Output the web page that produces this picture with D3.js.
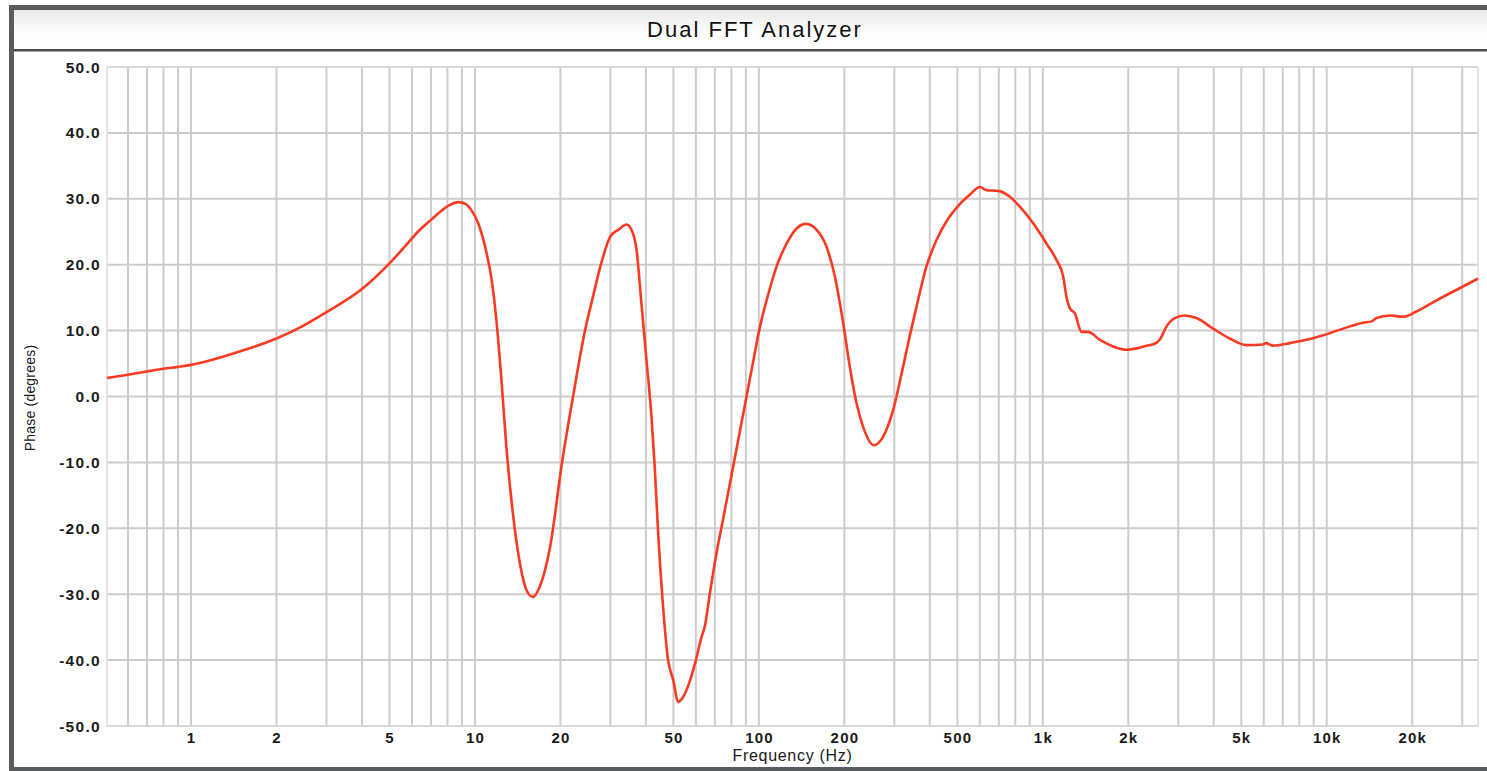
<!DOCTYPE html>
<html>
<head>
<meta charset="utf-8">
<script src="https://cdn.jsdelivr.net/npm/d3@7"></script>
<style>
  body { margin: 0; background: #fff; }
  text { font-family: "Liberation Sans", Arial, sans-serif; }
</style>
</head>
<body>
<svg id="chart" width="1487" height="771"></svg>
<script>
// frequency (Hz) / phase (degrees)
const freqs = [0.506, 0.6, 0.7, 0.8, 0.9, 1, 1.5, 2, 2.5, 3, 4, 5, 5.7, 6.4, 7, 7.53, 8.1, 8.74, 9.3, 9.6,
  10.27, 11, 11.45, 11.9, 12.4, 12.9, 13.6, 14.4, 15.2, 16, 16.9, 18.4, 20.27, 22.16, 24.42, 26.1, 27.6,
  30, 32, 34.2, 35.6, 37.1, 38.6, 40.2, 41.9, 43, 44.2, 45.8, 47.9, 49.9, 52, 54.1, 56.8, 60, 62.8, 64.5,
  67.2, 70.9, 74.9, 79, 89.3, 95.5, 100.9, 106.5, 115.4, 125.2, 135.8, 146.5, 159.8, 173.2, 185.2,
  198.2, 209.1, 220.7, 232.9, 254, 274, 297.3, 322, 340, 359, 389, 422, 458, 503, 553, 600, 634, 696, 766,
  830, 925, 1031, 1118, 1180, 1212, 1245, 1297, 1369, 1444, 1589, 1770, 1973, 2140, 2320, 2478, 2580, 2725,
  2915, 3162, 3478, 3980, 4553, 5213, 5966, 6100, 6471, 7408, 8481, 9710, 11420, 13430, 14380, 14960, 16670,
  18580, 20700, 24380, 28700, 34100];
const phase = [2.8, 3.3, 3.8, 4.2, 4.5, 4.8, 6.9, 8.8, 10.8, 12.8, 16.3, 20.2, 22.9, 25.3, 26.8, 28.0, 29.0, 29.5, 29.2, 28.6,
  26.3, 21.7, 17.7, 11.6, 2.5, -7.6, -17.7, -25.3, -29.4, -30.4, -28.9, -22.8, -10.0, 0.0, 10.0, 15.3, 19.6,
  24.3, 25.3, 26.1, 25.3, 22.2, 14.0, 5.5, -3.3, -10.9, -20.8, -30.9, -40.0, -43.0, -46.3, -45.6, -43.5, -40.0, -36.5, -34.9,
  -29.9, -23.8, -18.5, -13.3, -1.3, 5.3, 10.6, 14.6, 19.7, 23.2, 25.5, 26.2, 25.3, 22.7, 18.2,
  11.1, 4.5, -1.0, -4.6, -7.4, -6.1, -2.0, 4.5, 9.2, 13.6, 19.7, 23.7, 26.6, 28.9, 30.6, 31.8, 31.3, 31.2, 30.3,
  28.8, 26.3, 23.2, 20.7, 18.2, 15.1, 13.4, 12.6, 9.8, 9.8, 8.6, 7.6, 7.1, 7.3, 7.7, 8.0, 8.6, 10.6,
  11.9, 12.3, 11.9, 10.3, 8.8, 7.8, 7.9, 8.1, 7.7, 8.1, 8.6, 9.3, 10.3, 11.2, 11.4, 11.9, 12.3,
  12.1, 12.9, 14.6, 16.2, 17.9];

const yTicks = [50, 40, 30, 20, 10, 0, -10, -20, -30, -40, -50];
const xTickValues = [1, 2, 5, 10, 20, 50, 100, 200, 500, 1000, 2000, 5000, 10000, 20000];
const xTickLabels = ['1', '2', '5', '10', '20', '50', '100', '200', '500', '1k', '2k', '5k', '10k', '20k'];

const trace = freqs.map((f, i) => ({ f: f, p: phase[i] }));

// 1..9 x every decade, inside the domain
let gridFreqs = [];
[0.1, 1, 10, 100, 1000, 10000].forEach(dec => {
  for (let k = 1; k < 10; k++) gridFreqs.push(dec * k);
});

const plotLeft = 107, plotRight = 1478, plotTop = 67, plotBottom = 726;

const xScale = d3.scaleLog().domain([0.506, 34100]).range([plotLeft, plotRight]);
const yScale = d3.scaleLinear().domain([-50, 50]).range([plotBottom, plotTop]);

gridFreqs = gridFreqs.filter(f => xScale(f) > plotLeft + 2 && xScale(f) < plotRight - 2);

const svg = d3.select('#chart');

// window frame + title bar
const grad = svg.append('defs').append('linearGradient')
  .attr('id', 'bar').attr('x1', 0).attr('x2', 0).attr('y1', 0).attr('y2', 1);
grad.append('stop').attr('offset', '0%').attr('stop-color', '#e9e9e9');
grad.append('stop').attr('offset', '60%').attr('stop-color', '#ffffff');

svg.append('rect').attr('x', 9).attr('y', 5).attr('width', 1500).attr('height', 800).attr('fill', '#585c5f');
svg.append('rect').attr('x', 14).attr('y', 10).attr('width', 1500).attr('height', 757).attr('fill', '#fff');
svg.append('rect').attr('x', 14).attr('y', 10).attr('width', 1500).attr('height', 39).attr('fill', 'url(#bar)');
svg.append('rect').attr('x', 14).attr('y', 49).attr('width', 1500).attr('height', 2.5).attr('fill', '#4a4d50');

svg.append('text')
  .attr('x', 755).attr('y', 37)
  .attr('text-anchor', 'middle')
  .style('font-size', '22px')
  .style('letter-spacing', '2px')
  .attr('fill', '#111')
  .text('Dual FFT Analyzer');

// grid
const grid = svg.append('g').attr('stroke', '#cfcbcb').attr('stroke-width', 2);

grid.selectAll('line.v')
  .data(gridFreqs)
  .enter()
  .append('line')
  .attr('class', 'v')
  .attr('x1', d => xScale(d)).attr('x2', d => xScale(d))
  .attr('y1', plotTop).attr('y2', plotBottom);

grid.selectAll('line.h')
  .data(yTicks)
  .enter()
  .append('line')
  .attr('class', 'h')
  .attr('x1', plotLeft).attr('x2', plotRight)
  .attr('y1', d => yScale(d)).attr('y2', d => yScale(d));

svg.append('rect')
  .attr('x', plotLeft).attr('y', plotTop)
  .attr('width', plotRight - plotLeft).attr('height', plotBottom - plotTop)
  .attr('fill', 'none').attr('stroke', '#e2dcdc').attr('stroke-width', 1.5);

// axis labels
svg.append('g').selectAll('text')
  .data(yTicks)
  .enter()
  .append('text')
  .attr('x', 101)
  .attr('y', d => yScale(d))
  .attr('dy', '0.36em')
  .attr('text-anchor', 'end')
  .style('font-size', '15.5px')
  .style('font-weight', 'bold')
  .style('letter-spacing', '1.3px')
  .attr('fill', '#1a1a1a')
  .text(d => d.toFixed(1));

svg.append('g').selectAll('text')
  .data(xTickValues)
  .enter()
  .append('text')
  .attr('x', d => xScale(d) + 0.6)
  .attr('y', 743)
  .attr('text-anchor', 'middle')
  .style('font-size', '15px')
  .style('font-weight', 'bold')
  .style('letter-spacing', '1.2px')
  .attr('fill', '#1a1a1a')
  .text((d, i) => xTickLabels[i]);

svg.append('text')
  .attr('x', (plotLeft + plotRight) / 2).attr('y', 761)
  .attr('text-anchor', 'middle')
  .style('font-size', '16px')
  .style('letter-spacing', '0.7px')
  .attr('fill', '#1a1a1a')
  .text('Frequency (Hz)');

svg.append('text')
  .attr('transform', 'translate(35,398) rotate(-90)')
  .attr('text-anchor', 'middle')
  .style('font-size', '14px')
  .style('letter-spacing', '0.2px')
  .attr('fill', '#1a1a1a')
  .text('Phase (degrees)');

// phase trace
const line = d3.line()
  .x(d => xScale(d.f))
  .y(d => yScale(d.p))
  .curve(d3.curveMonotoneX);

svg.append('path')
  .datum(trace)
  .attr('d', line)
  .attr('fill', 'none')
  .attr('stroke', '#fb3a22')
  .attr('stroke-width', 2.6)
  .attr('stroke-linejoin', 'round');
</script>
</body>
</html>
